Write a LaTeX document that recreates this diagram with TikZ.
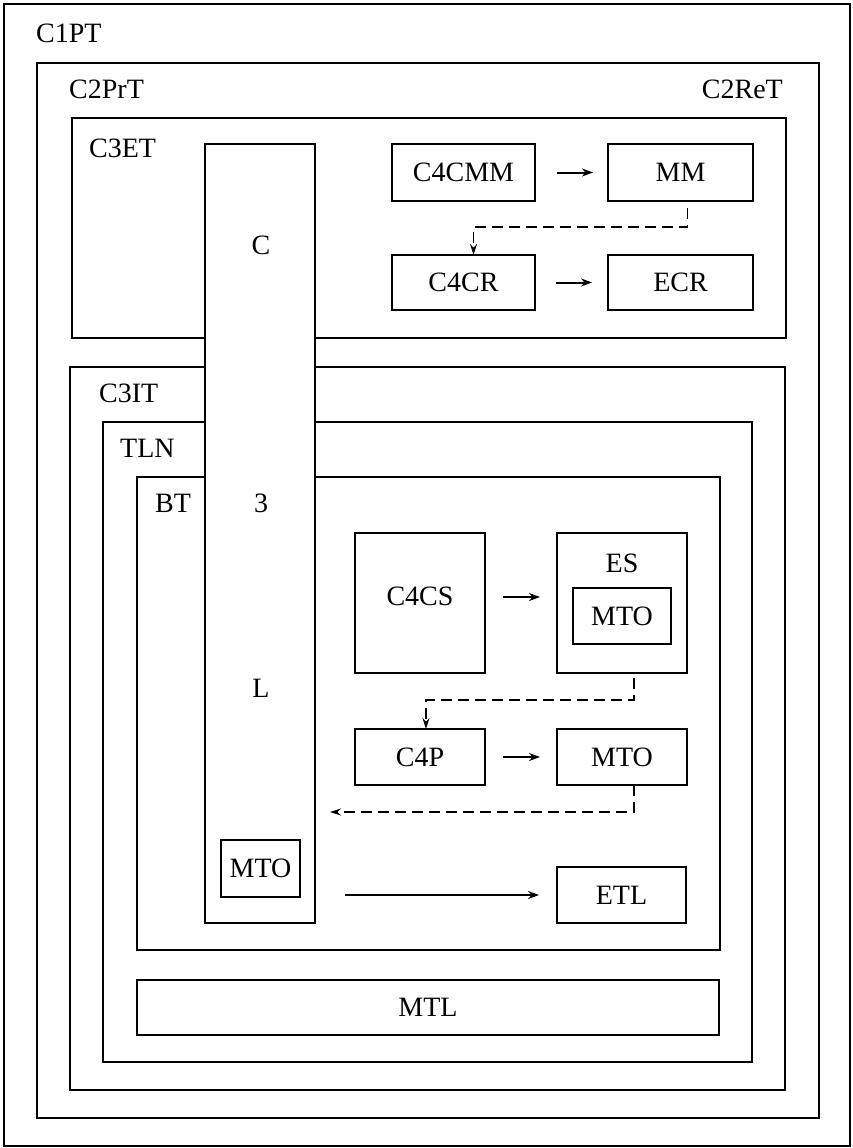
\documentclass[tikz,border=0pt]{standalone}
\usepackage{fontspec}
\setmainfont{Liberation Serif}
\usetikzlibrary{arrows.meta}
\begin{document}
\begin{tikzpicture}[x=1pt,y=-1pt,
  box/.style={draw, line width=2.8pt, inner sep=0pt, outer sep=0pt, fill=white, font=\fontsize{28}{31}\selectfont},
  lbl/.style={inner sep=0pt, font=\fontsize{28}{31}\selectfont},
  arr/.style={line width=2pt, -{Stealth[length=11pt,width=8pt]}},
  dsh/.style={line width=1.4pt, dash pattern=on 11pt off 6pt, -{Stealth[length=11pt,width=7pt]}}
]
\useasboundingbox (0,0) rectangle (852,1148);
\fill[white] (0,0) rectangle (852,1148);
% containers
\node[box, minimum width=846pt, minimum height=1142pt] (outer) at (427,575) {};
\node[box, minimum width=782pt, minimum height=1055pt] (c2) at (428,590.5) {};
\node[box, minimum width=714pt, minimum height=220pt] (c3et) at (429,228) {};
\node[box, minimum width=715pt, minimum height=723pt] (c3it) at (427.5,728.5) {};
\node[box, minimum width=649pt, minimum height=640pt] (tln) at (427.5,742) {};
\node[box, minimum width=583pt, minimum height=473pt] (bt) at (428.5,713.5) {};
\node[box, minimum width=582pt, minimum height=55pt] (mtl) at (428,1007.5) {MTL};
% column
\node[box, minimum width=110pt, minimum height=779pt] (col) at (260,533.5) {};
% container labels
\node[lbl, anchor=base west] (lc1) at (36,43) {C1PT};
\node[lbl, anchor=base west] (lc2) at (69,98) {C2PrT};
\node[lbl, anchor=base east] (lc2r) at (783,98) {C2ReT};
\node[lbl, anchor=base west] (lc3et) at (89,157) {C3ET};
\node[lbl, anchor=base west] (lc3it) at (99,402) {C3IT};
\node[lbl, anchor=base west] (ltln) at (120,457) {TLN};
\node[lbl, anchor=base west] (lbt) at (155,512) {BT};
\node[lbl, anchor=base] (colc) at (261,254) {C};
\node[lbl, anchor=base] (col3) at (261,512) {3};
\node[lbl, anchor=base] (coll) at (261,697) {L};
% inner boxes
\node[box, minimum width=143pt, minimum height=57pt] (cmm) at (463.5,172.5) {C4CMM};
\node[box, minimum width=145pt, minimum height=57pt] (mm) at (680.5,172.5) {MM};
\node[box, minimum width=143pt, minimum height=55pt] (ccr) at (463.5,282.5) {C4CR};
\node[box, minimum width=145pt, minimum height=55pt] (ecr) at (680.5,282.5) {ECR};
\node[box, minimum width=130pt, minimum height=140pt] (cs) at (420,603) {};
\node[lbl] (cstext) at (420,596) {C4CS};
\node[box, minimum width=130pt, minimum height=140pt] (es) at (622,603) {};
\node[lbl, anchor=base] (estext) at (622,572) {ES};
\node[box, minimum width=98pt, minimum height=56pt] (mto1) at (622,616) {MTO};
\node[box, minimum width=130pt, minimum height=56pt] (cp) at (420,757) {C4P};
\node[box, minimum width=130pt, minimum height=56pt] (mto2) at (622,757) {MTO};
\node[box, minimum width=79pt, minimum height=57pt] (mto3) at (260.5,868.5) {MTO};
\node[box, minimum width=129pt, minimum height=56pt] (etl) at (621.5,895) {ETL};
% solid arrows
\draw[arr, shorten <=22pt, shorten >=15pt] (cmm) -- (mm);
\draw[arr, shorten <=21pt, shorten >=16pt] (ccr) -- (ecr);
\draw[arr, shorten <=18pt, shorten >=17pt] ([yshift=6pt]cs.east) -- ([yshift=6pt]es.west);
\draw[arr, shorten <=18pt, shorten >=17pt] (cp) -- (mto2);
\draw[arr, shorten <=30pt, shorten >=18pt] (col.east |- etl.west) -- (etl.west);
% dashed connectors
\draw[dsh, shorten <=7pt] ([xshift=7pt]mm.south) -- ++(0,26) -| ([xshift=10pt]ccr.north);
\draw[dsh, shorten <=5pt] ([xshift=12pt]es.south) -- ++(0,27) -| ([xshift=6pt]cp.north);
\draw[dsh, shorten >=15pt] ([xshift=12pt]mto2.south) -- ++(0,27) coordinate (d3) -- (d3 -| col.east);
\end{tikzpicture}
\end{document}
